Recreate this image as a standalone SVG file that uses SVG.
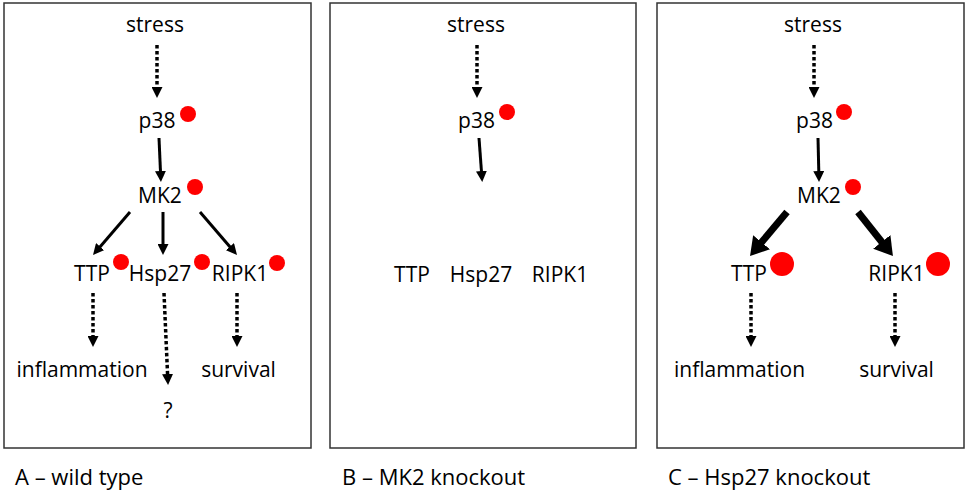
<svg xmlns="http://www.w3.org/2000/svg" width="969" height="495" viewBox="0 0 969 495">
<style>
.box{fill:#fff;stroke:#333;stroke-width:1.5}
.t{font-family:"Open Sans","Noto Sans","Liberation Sans",sans-serif;font-size:21px;fill:#000;text-anchor:middle}
.cap{font-family:"Open Sans","Noto Sans","Liberation Sans",sans-serif;font-size:22px;fill:#000}
.dot{fill:#ff0000}
.solid{stroke:#000;stroke-width:3;fill:none;marker-end:url(#head)}
.dash{stroke:#000;stroke-width:3.5;fill:none;stroke-dasharray:3.5 2.5;marker-end:url(#head)}
.thick{stroke:#000;stroke-width:7;fill:none;marker-end:url(#bighead)}
</style>
<defs>
<marker id="head" markerUnits="userSpaceOnUse" markerWidth="11" markerHeight="11" refX="1" refY="5.5" orient="auto">
<path d="M0,0 L11,5.5 L0,11 z" fill="#000"/>
</marker>
<marker id="bighead" markerUnits="userSpaceOnUse" markerWidth="18" markerHeight="22" refX="2" refY="11" orient="auto">
<path d="M0,0 L18,11 L0,22 z" fill="#000"/>
</marker>
</defs>
<rect width="969" height="495" fill="#fff"/>
<g id="panels">
<rect class="box" x="4" y="3" width="307" height="445"/>
<rect class="box" x="330" y="3" width="306" height="445"/>
<rect class="box" x="657" y="3" width="307" height="445"/>
</g>
<g id="connectors">
<line class="dash" x1="157" y1="45" x2="157" y2="88"/>
<line class="solid" x1="159" y1="138" x2="160.5" y2="172"/>
<line class="solid" x1="130" y1="212" x2="99.5" y2="247.4"/>
<line class="solid" x1="163" y1="212" x2="163" y2="245"/>
<line class="solid" x1="200" y1="212" x2="230.5" y2="247.4"/>
<line class="dash" x1="93" y1="293" x2="93" y2="337"/>
<line class="dash" x1="164" y1="293" x2="167.6" y2="375"/>
<line class="dash" x1="237" y1="293" x2="237" y2="337"/>
<line class="dash" x1="477" y1="45" x2="477" y2="88"/>
<line class="solid" x1="479" y1="138" x2="481.5" y2="172"/>
<line class="dash" x1="814" y1="45" x2="814" y2="88"/>
<line class="solid" x1="818" y1="138" x2="818.8" y2="172"/>
<line class="thick" x1="787" y1="212" x2="760.3" y2="243.8"/>
<line class="thick" x1="858" y1="212" x2="883" y2="243.5"/>
<line class="dash" x1="751" y1="293" x2="751" y2="337"/>
<line class="dash" x1="895" y1="293" x2="895" y2="337"/>
</g>
<g id="A-stress"><text class="t" x="155" y="32">stress</text></g>
<g id="A-p38"><text class="t" x="157" y="128">p38</text><circle class="dot" cx="188" cy="114" r="8"/></g>
<g id="A-MK2"><text class="t" x="160" y="203">MK2</text><circle class="dot" cx="195" cy="187" r="8"/></g>
<g id="A-TTP"><text class="t" x="92" y="281">TTP</text><circle class="dot" cx="121" cy="262" r="8"/></g>
<g id="A-Hsp27"><text class="t" x="160" y="281">Hsp27</text><circle class="dot" cx="202" cy="262" r="8"/></g>
<g id="A-RIPK1"><text class="t" x="240" y="281">RIPK1</text><circle class="dot" cx="277" cy="263" r="8"/></g>
<g id="A-inflammation"><text class="t" x="82" y="377">inflammation</text></g>
<g id="A-q"><text class="t" x="168" y="418">?</text></g>
<g id="A-survival"><text class="t" x="238.5" y="377">survival</text></g>
<g id="A-caption"><text class="cap" x="15" y="485">A – wild type</text></g>
<g id="B-stress"><text class="t" x="476" y="32">stress</text></g>
<g id="B-p38"><text class="t" x="476.5" y="128">p38</text><circle class="dot" cx="507" cy="112" r="8"/></g>
<g id="B-TTP"><text class="t" x="412" y="282">TTP</text></g>
<g id="B-Hsp27"><text class="t" x="481" y="282">Hsp27</text></g>
<g id="B-RIPK1"><text class="t" x="560" y="282">RIPK1</text></g>
<g id="B-caption"><text class="cap" x="342" y="485">B – MK2 knockout</text></g>
<g id="C-stress"><text class="t" x="813" y="32">stress</text></g>
<g id="C-p38"><text class="t" x="814.5" y="128">p38</text><circle class="dot" cx="844" cy="112" r="8"/></g>
<g id="C-MK2"><text class="t" x="819" y="203">MK2</text><circle class="dot" cx="853" cy="187" r="8"/></g>
<g id="C-TTP"><text class="t" x="749" y="281">TTP</text><circle class="dot" cx="782" cy="264" r="12"/></g>
<g id="C-RIPK1"><text class="t" x="896.5" y="281">RIPK1</text><circle class="dot" cx="938" cy="264" r="12"/></g>
<g id="C-inflammation"><text class="t" x="739.5" y="377">inflammation</text></g>
<g id="C-survival"><text class="t" x="896.5" y="377">survival</text></g>
<g id="C-caption"><text class="cap" x="668" y="485">C – Hsp27 knockout</text></g>
</svg>
